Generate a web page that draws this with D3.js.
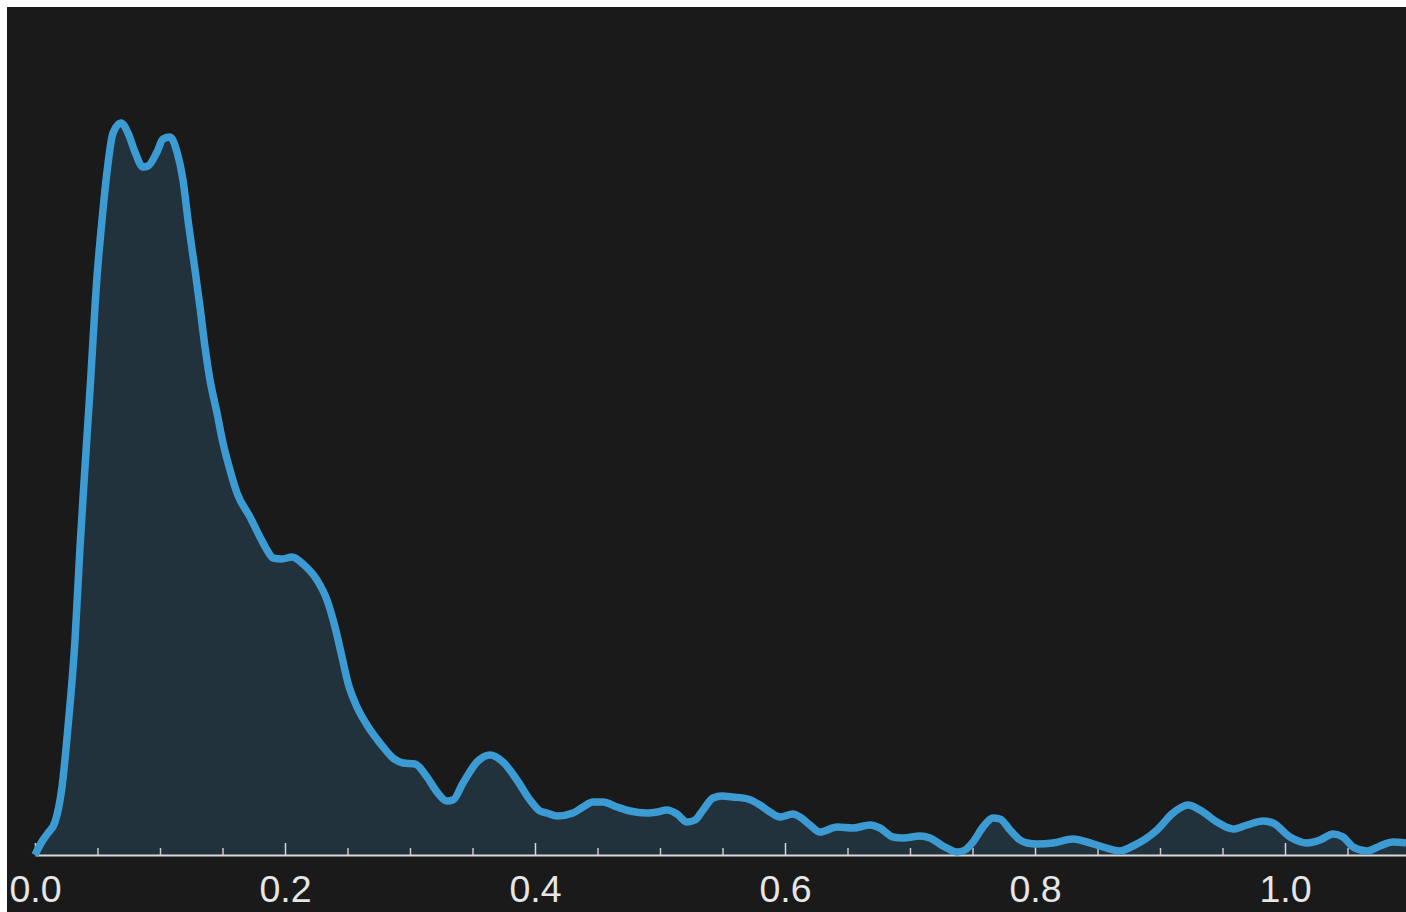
<!DOCTYPE html>
<html>
<head>
<meta charset="utf-8">
<script src="https://cdn.jsdelivr.net/npm/d3@7"></script>
<style>
  html, body { margin: 0; padding: 0; background: #ffffff; }
  svg { display: block; }
</style>
</head>
<body>
<svg id="chart" width="1406" height="912"></svg>
<script>
// Kernel density estimate: evaluation points and density values
const xs = [
  0, 0.0054, 0.0104, 0.016, 0.0216, 0.0264, 0.032, 0.036, 0.04, 0.044,
  0.0496, 0.0536, 0.0576, 0.0624, 0.0688, 0.0744, 0.08, 0.0864, 0.0904, 0.0976,
  0.1024, 0.108, 0.1136, 0.1184, 0.1224, 0.128, 0.132, 0.136, 0.14, 0.1456,
  0.1504, 0.156, 0.1616, 0.172, 0.18, 0.1856, 0.1904, 0.1976, 0.2056, 0.2144,
  0.2256, 0.2336, 0.24, 0.2456, 0.2504, 0.2576, 0.2656, 0.276, 0.2864, 0.2944,
  0.304, 0.3136, 0.3216, 0.3296, 0.3344, 0.3424, 0.3536, 0.364, 0.3744, 0.3856,
  0.396, 0.404, 0.4096, 0.4176, 0.4304, 0.4384, 0.4464, 0.4544, 0.4656, 0.476,
  0.4896, 0.4976, 0.5056, 0.5136, 0.5216, 0.528, 0.5344, 0.5424, 0.5496, 0.5584,
  0.5704, 0.58, 0.588, 0.596, 0.6064, 0.612, 0.62, 0.628, 0.6416, 0.6544,
  0.668, 0.676, 0.6864, 0.6944, 0.708, 0.716, 0.7264, 0.7376, 0.744, 0.7504,
  0.7584, 0.7664, 0.772, 0.78, 0.788, 0.7936, 0.8016, 0.8144, 0.8304, 0.8416,
  0.852, 0.868, 0.8784, 0.8976, 0.9104, 0.9224, 0.932, 0.9456, 0.9584, 0.9696,
  0.9824, 0.9904, 1.004, 1.0176, 1.028, 1.0384, 1.0464, 1.0544, 1.0656, 1.076,
  1.0864, 1.0968
];
const density = [
  0, 0.13, 0.22, 0.33, 0.68, 1.28, 2.15, 3.08, 3.88, 4.65,
  5.78, 6.35, 6.83, 7.22, 7.32, 7.22, 7.03, 6.88, 6.89, 7.03,
  7.16, 7.18, 7.03, 6.75, 6.35, 5.85, 5.48, 5.08, 4.75, 4.42,
  4.12, 3.85, 3.62, 3.38, 3.18, 3.05, 2.97, 2.96, 2.98, 2.91,
  2.75, 2.55, 2.28, 1.98, 1.72, 1.48, 1.30, 1.12, 0.97, 0.92,
  0.91, 0.78, 0.63, 0.54, 0.55, 0.72, 0.93, 1.00, 0.93, 0.75,
  0.55, 0.44, 0.42, 0.39, 0.42, 0.48, 0.53, 0.53, 0.48, 0.44,
  0.42, 0.43, 0.45, 0.41, 0.33, 0.35, 0.45, 0.57, 0.59, 0.58,
  0.56, 0.50, 0.43, 0.38, 0.41, 0.38, 0.30, 0.23, 0.28, 0.27,
  0.30, 0.27, 0.18, 0.17, 0.19, 0.17, 0.09, 0.03, 0.05, 0.13,
  0.28, 0.37, 0.36, 0.25, 0.15, 0.12, 0.11, 0.12, 0.16, 0.13,
  0.09, 0.04, 0.09, 0.25, 0.42, 0.50, 0.45, 0.33, 0.26, 0.30,
  0.34, 0.32, 0.18, 0.12, 0.15, 0.21, 0.18, 0.08, 0.04, 0.09,
  0.13, 0.12
];
const majorTicks = [0, 0.2, 0.4, 0.6, 0.8, 1.0];
const minorTicks = [0.05, 0.1, 0.15, 0.25, 0.3, 0.35, 0.45, 0.5, 0.55, 0.65, 0.7, 0.75,
                    0.85, 0.9, 0.95, 1.05];

const W = 1406, H = 912;
const panel = { left: 7, top: 7 };
const plot = { left: 35, right: 1406, bottom: 855, top: 7 };

const svg = d3.select("#chart");

svg.append("rect")
  .attr("x", panel.left).attr("y", panel.top)
  .attr("width", W - panel.left).attr("height", H - panel.top)
  .attr("fill", "#1a1a1a");

const x = d3.scaleLinear()
  .domain([0, (plot.right - plot.left) / 1250])
  .range([plot.left, plot.right]);

const y = d3.scaleLinear()
  .domain([0, (plot.bottom - plot.top) / 100])
  .range([plot.bottom, plot.top]);

const pts = xs.map((v, i) => [v, density[i]]);

svg.append("path")
  .datum(pts)
  .attr("fill", "#22323c")
  .attr("d", d3.area()
    .x(d => x(d[0]))
    .y0(y(0))
    .y1(d => y(d[1]))
    .curve(d3.curveMonotoneX));

// Minor ticks
const minorAxis = d3.axisBottom(x)
  .tickValues(minorTicks)
  .tickSizeInner(-7)
  .tickSizeOuter(0)
  .tickFormat("");
const gMinor = svg.append("g")
  .attr("transform", `translate(0,${plot.bottom})`)
  .call(minorAxis);
gMinor.select(".domain").remove();
gMinor.selectAll(".tick line").attr("stroke", "#c8c8c8").attr("stroke-width", 1.5);

// Major ticks, labels and baseline
const majorAxis = d3.axisBottom(x)
  .tickValues(majorTicks)
  .tickSizeInner(-12)
  .tickSizeOuter(0)
  .tickPadding(20)
  .tickFormat(d3.format(".1f"));
const gMajor = svg.append("g")
  .attr("transform", `translate(0,${plot.bottom})`)
  .call(majorAxis);
gMajor.select(".domain").attr("stroke", "#d8d8d8").attr("stroke-width", 2);
gMajor.selectAll(".tick line").attr("stroke", "#d8d8d8").attr("stroke-width", 1.5);
gMajor.selectAll(".tick text")
  .attr("fill", "#e6e6e6")
  .style("font-family", "'Liberation Sans', Arial, sans-serif")
  .style("font-size", "37.5px");

svg.append("path")
  .datum(pts)
  .attr("fill", "none")
  .attr("stroke", "#3c9bd3")
  .attr("stroke-width", 7.5)
  .attr("stroke-linejoin", "round")
  .attr("d", d3.line()
    .x(d => x(d[0]))
    .y(d => y(d[1]))
    .curve(d3.curveMonotoneX));
</script>
</body>
</html>
